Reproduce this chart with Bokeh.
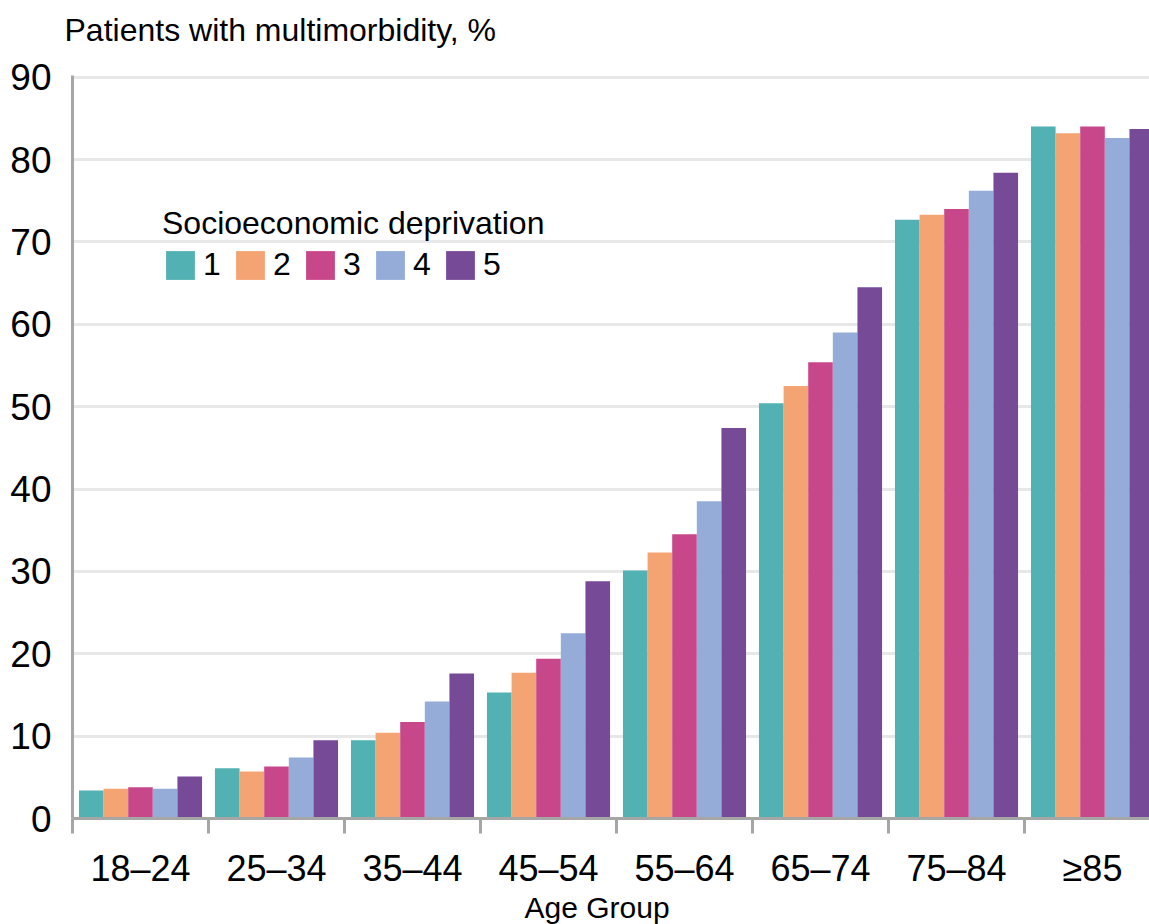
from bokeh.plotting import figure
from bokeh.models import Range1d, FixedTicker, Legend, LegendItem, Title
from bokeh.embed import file_html
from bokeh.resources import INLINE

# ---- data ----
age_groups = ["18–24", "25–34", "35–44", "45–54", "55–64", "65–74", "75–84", "≥85"]
deprivation_levels = ["1", "2", "3", "4", "5"]
q1 = [3.4, 6.1, 9.5, 15.3, 30.1, 50.4, 72.7, 84.0]
q2 = [3.6, 5.7, 10.4, 17.7, 32.3, 52.5, 73.3, 83.2]
q3 = [3.8, 6.3, 11.7, 19.4, 34.5, 55.4, 74.0, 84.0]
q4 = [3.6, 7.4, 14.2, 22.5, 38.5, 59.0, 76.2, 82.6]
q5 = [5.1, 9.5, 17.6, 28.8, 47.4, 64.5, 78.4, 83.7]
series = [q1, q2, q3, q4, q5]
colors = ["#52b1b3", "#f4a373", "#c8478a", "#95acd9", "#764a97"]
y_ticks = [0, 10, 20, 30, 40, 50, 60, 70, 80, 90]

FONT = "Liberation Sans"
GRAY = "#a6a6a6"

p = figure(width=1149, height=924, output_backend="svg", toolbar_location=None, title=None,
           x_range=Range1d(0, 7.919), y_range=Range1d(0, 90.2),
           min_border_left=72, min_border_right=0, min_border_top=0, min_border_bottom=0)
p.outline_line_color = None
p.background_fill_color = "white"

bw = 0.181
renderers = []
for k, vals in enumerate(series):
    xs = [i + 0.5 + (k - 2) * bw for i in range(len(age_groups))]
    r = p.vbar(x=xs, top=vals, bottom=0, width=bw, fill_color=colors[k], line_color=None)
    renderers.append(r)

# axes
centers = [i + 0.5 for i in range(len(age_groups))]
bounds = [float(i) for i in range(len(age_groups) + 1)]
xa = p.xaxis[0]
xa.ticker = FixedTicker(ticks=centers, minor_ticks=bounds)
xa.major_label_overrides = {c: lab for c, lab in zip(centers, age_groups)}
xa.major_tick_out = 0
xa.major_tick_in = 0
xa.minor_tick_in = 0
xa.minor_tick_out = 15
xa.minor_tick_line_color = GRAY
xa.minor_tick_line_width = 3
xa.axis_line_color = GRAY
xa.axis_line_width = 3
xa.major_label_text_font = FONT
xa.major_label_text_font_size = "36px"
xa.major_label_text_color = "black"
xa.major_label_standoff = 14

ya = p.yaxis[0]
ya.ticker = FixedTicker(ticks=y_ticks)
ya.major_tick_out = 0
ya.major_tick_in = 0
ya.minor_tick_out = 0
ya.minor_tick_in = 0
ya.axis_line_color = GRAY
ya.axis_line_width = 3
ya.major_label_text_font = FONT
ya.major_label_text_font_size = "37px"
ya.major_label_text_color = "black"
ya.major_label_standoff = 21

p.xgrid.grid_line_color = None
p.ygrid.grid_line_color = "#e8e8e8"
p.ygrid.grid_line_width = 3
p.ygrid.ticker = FixedTicker(ticks=y_ticks[1:])

# titles: a small spacer next to the frame, then the main title
spacer = Title(text=" ", text_font=FONT, text_font_size="10px", standoff=2)
p.add_layout(spacer, "above")
main_title = Title(text="Patients with multimorbidity, %", text_font=FONT,
                   text_font_size="32px", text_font_style="normal", text_color="black",
                   align="left", vertical_align="top", offset=-8, standoff=22)
p.add_layout(main_title, "above")

xt = Title(text="Age Group", align="left", offset=452, text_font=FONT,
           text_font_size="30px", text_font_style="normal", text_color="black",
           vertical_align="top", standoff=-2)
p.add_layout(xt, "below")

# legend
items = [LegendItem(label=lab, renderers=[r]) for lab, r in zip(deprivation_levels, renderers)]
legend = Legend(items=items, orientation="horizontal", location=(90, 535),
                title="Socioeconomic deprivation",
                title_text_font=FONT, title_text_font_size="32px", title_text_font_style="normal",
                title_text_color="black", title_standoff=4,
                label_text_font=FONT, label_text_font_size="32px", label_text_color="black",
                glyph_width=36, glyph_height=36, label_standoff=5, label_width=20,
                spacing=9, padding=0, margin=0,
                border_line_color=None, background_fill_alpha=0)
p.add_layout(legend, "center")

open("out.html", "w").write(file_html(p, INLINE))
